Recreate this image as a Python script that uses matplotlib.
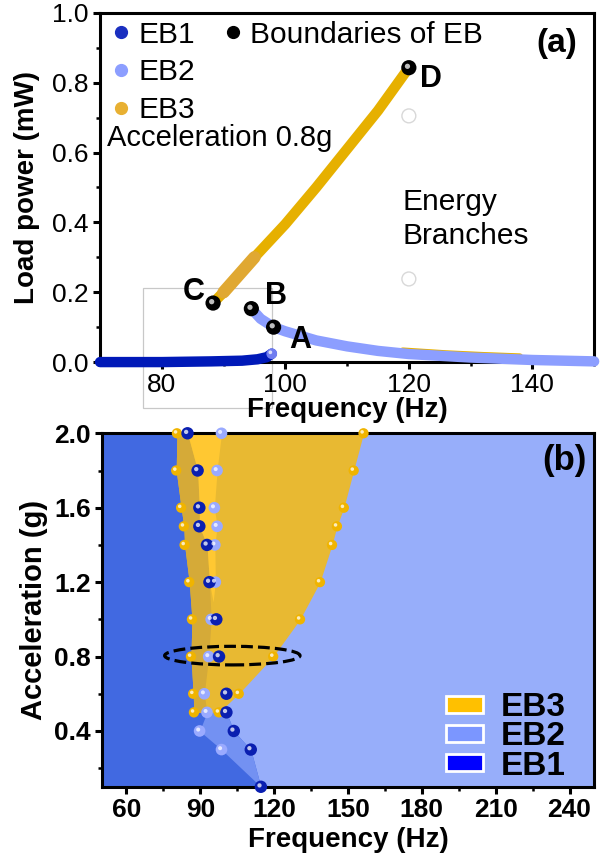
import matplotlib
matplotlib.use('Agg')
import matplotlib.pyplot as plt
from matplotlib import transforms
from matplotlib.patches import Ellipse, Rectangle, Patch
from matplotlib.lines import Line2D
from matplotlib.ticker import MultipleLocator
import numpy as np

plt.rcParams['font.family'] = ['Liberation Sans', 'DejaVu Sans']

# panel (a): load power vs frequency at 0.8 g
eb1_freq = [70, 80, 88, 93, 95.5, 97, 97.8]
eb1_power = [0.0, 0.0, 0.002, 0.004, 0.008, 0.014, 0.024]
eb2_freq = [94.5, 96, 98.1, 100, 105, 110, 115, 120, 130, 140, 150]
eb2_power = [0.153, 0.124, 0.1, 0.088, 0.062, 0.045, 0.032, 0.023, 0.013, 0.006, 0.002]
eb3_freq = [88.3, 90, 95, 100, 105, 110, 115, 120]
eb3_power = [0.169, 0.2, 0.3, 0.395, 0.5, 0.61, 0.72, 0.843]
eb3_tail_freq = [119, 126, 132, 138]
eb3_tail_power = [0.034, 0.026, 0.021, 0.017]
bound_freq = [98.1, 94.5, 88.3, 120]
bound_power = [0.1, 0.153, 0.169, 0.843]
bound_names = ['A', 'B', 'C', 'D']
name_freq = [102.4, 98.5, 85.2, 123.6]
name_power = [0.064, 0.19, 0.2, 0.81]
empty_freq = [120, 120]
empty_power = [0.705, 0.238]

# panel (b): energy branch map
acc = [2.0, 1.8, 1.6, 1.5, 1.4, 1.2, 1.0, 0.8, 0.6, 0.5, 0.4, 0.3, 0.1]
eb1_edge = [84.8, 88.9, 89.6, 89.6, 92.7, 93.7, 96.5, 97.6, 100.6, 100.6, 103.6, 110.5, 114.6]
eb2_edge = [98.6, 96.8, 95.7, 96.8, 95.9, 96.1, 94.4, 93.4, 91.6, 92.7, 89.7, 98.6]
eb3_left = [80.5, 80.2, 82.2, 83.3, 83.6, 85.5, 86.6, 86.2, 87.1, 87.4]
eb3_right = [156.3, 152.3, 148.3, 145.5, 143.5, 138.6, 130.5, 119.6, 105.6, 97.5]

c_eb1 = '#0019b8'
c_eb2 = '#8c9eff'
c_eb3 = '#e6b000'

fig = plt.figure(figsize=(6.1, 8.58), dpi=100)
ax1 = fig.add_axes([0.164, 0.578, 0.810, 0.407])
ax2 = fig.add_axes([0.167, 0.083, 0.807, 0.412])


def spheres(ax, x, y, color, size, z=5):
    ax.scatter(x, y, s=size, color=color, edgecolors='none', zorder=z, clip_on=False)
    shine = transforms.offset_copy(ax.transData, fig=fig, x=-1.0, y=1.0, units='points')
    ax.scatter(x, y, s=size * 0.12, color='white', alpha=0.75, edgecolors='none',
               zorder=z + 0.1, clip_on=False, transform=shine)


def style_axes(ax, weight):
    for s in ax.spines.values():
        s.set_linewidth(2.2)
    ax.tick_params(which='major', direction='out', length=5, width=2.2, labelsize=19, pad=3)
    ax.tick_params(which='minor', direction='out', length=3, width=1.8)
    for lab in ax.get_xticklabels() + ax.get_yticklabels():
        lab.set_fontweight(weight)


# ---------------- (a) ----------------
ax1.plot(eb1_freq, eb1_power, color=c_eb1, lw=7.5, solid_capstyle='round', clip_on=False, zorder=3)
ax1.plot(eb3_tail_freq, eb3_tail_power, color=c_eb3, lw=4, solid_capstyle='round', clip_on=False, zorder=2)
ax1.plot(eb2_freq, eb2_power, color=c_eb2, lw=7.5, solid_capstyle='round', clip_on=False, zorder=3)
ax1.plot(eb3_freq, eb3_power, color=c_eb3, lw=7.5, solid_capstyle='round', clip_on=False, zorder=3)
ax1.plot(eb3_freq[1:3], eb3_power[1:3], color='#e0a832', lw=9, solid_capstyle='round', zorder=3.5)
spheres(ax1, [eb1_freq[-1]], [eb1_power[-1]], '#6f7cf0', 60, z=4)
spheres(ax1, bound_freq, bound_power, 'black', 120)
ax1.scatter(empty_freq, empty_power, s=100, facecolors='none', edgecolors='#d8d8d8', lw=1, zorder=2)
for nm, fx, py in zip(bound_names, name_freq, name_power):
    ax1.text(fx, py, nm, fontsize=22, fontweight='bold', ha='center', va='center')

ax1.add_patch(Rectangle((76.9, -0.132), 21.0, 0.344, fill=False, edgecolor='#c8c8c8',
                        lw=0.9, clip_on=False, zorder=1))

ax1.set_xlim(70, 150)
ax1.set_ylim(0, 1.0)
ax1.xaxis.set_major_locator(MultipleLocator(20))
ax1.xaxis.set_minor_locator(MultipleLocator(10))
ax1.yaxis.set_major_locator(MultipleLocator(0.2))
ax1.yaxis.set_minor_locator(MultipleLocator(0.1))
ax1.set_xticks([80, 100, 120, 140])
style_axes(ax1, 'normal')
ax1.set_xlabel('Frequency (Hz)', fontsize=20, fontweight='bold', labelpad=0)
ax1.set_ylabel('Load power (mW)', fontsize=20, fontweight='bold', labelpad=9)

ax1.text(118.9, 0.41, 'Energy\nBranches', fontsize=21.5, ha='left', va='center', linespacing=1.3)
ax1.text(0.014, 0.643, 'Acceleration 0.8g', fontsize=21, transform=ax1.transAxes, ha='left', va='center')
ax1.text(144, 0.913, '(a)', fontsize=24, fontweight='bold', ha='center', va='center')

h_eb = [Line2D([], [], ls='none', marker='o', ms=8.5, color=c) for c in ['#1a2fc0', c_eb2, '#e8b032']]
leg1 = ax1.legend(h_eb, ['EB1', 'EB2', 'EB3'], loc='upper left', fontsize=21.5, frameon=False,
                  handlelength=0.6, handletextpad=0.28, labelspacing=0.33,
                  borderaxespad=0.0, borderpad=0.2, bbox_to_anchor=(0.012, 0.995))
ax1.add_artist(leg1)
h_b = [Line2D([], [], ls='none', marker='o', ms=8.5, color='black')]
ax1.legend(h_b, ['Boundaries of EB'], loc='upper left', fontsize=21.5, frameon=False,
           handlelength=0.6, handletextpad=0.28, borderaxespad=0.0, borderpad=0.2,
           bbox_to_anchor=(0.239, 0.995))

# ---------------- (b) ----------------
ax2.set_facecolor('#97aefa')
acc3 = acc[:10]
eb2_full = eb2_edge + [eb1_edge[-1]]
ax2.fill_betweenx(acc, 50, eb1_edge, color='#4169e1', lw=0)
ax2.fill_betweenx(acc, eb2_full, eb1_edge, where=np.array(eb2_full) < np.array(eb1_edge),
                  interpolate=True, color='#7391f2', lw=0)
ax2.fill_betweenx(acc3, eb3_left, eb3_right, color='#e8b932', lw=0)
ax2.fill_betweenx(acc3, eb3_left, np.minimum(eb1_edge[:10], eb2_edge[:10]), color='#d5aa38', lw=0)
ax2.fill_betweenx(acc3, eb1_edge[:10], eb2_edge[:10],
                  where=np.array(eb1_edge[:10]) < np.array(eb2_edge[:10]),
                  interpolate=True, color='#ffc832', lw=0)

spheres(ax2, eb3_left, acc3, '#f0b400', 55)
spheres(ax2, eb3_right, acc3, '#f0b400', 55)
spheres(ax2, eb2_edge, acc[:12], '#9aaaff', 70)
spheres(ax2, eb1_edge, acc, '#0a1fb0', 80)

ax2.add_patch(Ellipse((103, 0.805), 55, 0.1, fill=False, ls='--', lw=2.3, edgecolor='black', zorder=7))

ax2.set_xlim(50, 250)
ax2.set_ylim(0.1, 2.0)
ax2.set_xticks([60, 90, 120, 150, 180, 210, 240])
ax2.xaxis.set_minor_locator(MultipleLocator(15))
ax2.set_yticks([0.4, 0.8, 1.2, 1.6, 2.0])
ax2.yaxis.set_minor_locator(MultipleLocator(0.2))
style_axes(ax2, 'bold')
ax2.set_xlabel('Frequency (Hz)', fontsize=20, fontweight='bold', labelpad=4)
ax2.set_ylabel('Acceleration (g)', fontsize=21, fontweight='bold', labelpad=4)
ax2.text(238, 1.855, '(b)', fontsize=25, fontweight='bold', ha='center', va='center')

h_reg = [Patch(facecolor=c, edgecolor='white', lw=2) for c in ['#ffc000', '#7b96ff', '#0000ff']]
ax2.legend(h_reg, ['EB3', 'EB2', 'EB1'], loc='lower right',
           prop={'size': 24, 'weight': 'bold'}, frameon=False,
           handlelength=1.1, handleheight=0.4, handletextpad=0.55, labelspacing=-0.05,
           borderaxespad=0.0, borderpad=0.1, bbox_to_anchor=(0.95, 0.005))

fig.savefig('out.png', dpi=100)
